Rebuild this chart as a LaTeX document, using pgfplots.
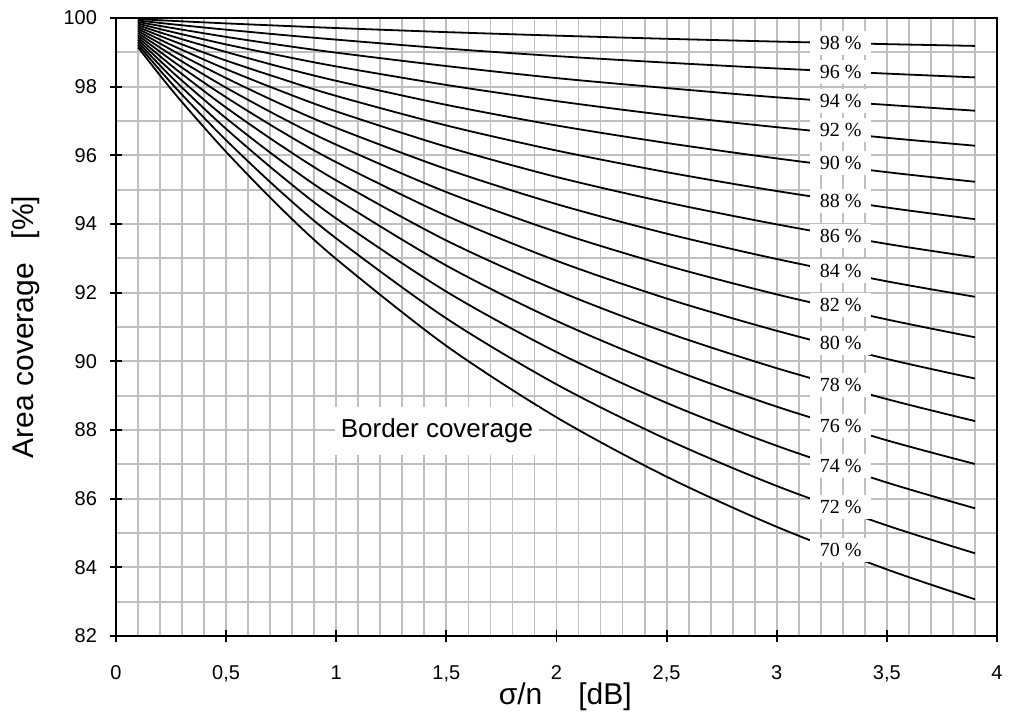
\documentclass[border=0pt]{standalone}
\usepackage{fontspec}
\setmainfont{Liberation Sans}
\newfontfamily\serif{Liberation Serif}
\usepackage{pgfplots}
\usepackage{pgfplotstable}
\pgfplotsset{compat=1.18}

% area coverage [%] against sigma/n [dB], one column per border coverage
\pgfplotstableread{
x    c98    c96    c94    c92    c90    c88    c86    c84    c82    c80    c78    c76    c74    c72    c70
0.1  99.967 99.927 99.883 99.836 99.786 99.733 99.678 99.620 99.560 99.497 99.432 99.363 99.293 99.220 99.144
0.2  99.934 99.856 99.770 99.678 99.580 99.477 99.368 99.256 99.138 99.015 98.887 98.755 98.617 98.475 98.328
0.3  99.903 99.788 99.661 99.526 99.382 99.230 99.071 98.906 98.733 98.553 98.366 98.173 97.972 97.764 97.549
0.5  99.843 99.66  99.45  99.23  99.01  98.76  98.51  98.25  97.97  97.69  97.39  97.08  96.77  96.44  96.10
0.75 99.774 99.51  99.21  98.90  98.57  98.23  97.87  97.49  97.10  96.70  96.28  95.84  95.40  94.93  94.45
1.0  99.708 99.37  98.99  98.59  98.17  97.73  97.28  96.80  96.31  95.80  95.27  94.73  94.16  93.58  92.98
1.5  99.589 99.11  98.60  98.05  97.47  96.87  96.25  95.60  94.93  94.24  93.52  92.79  92.03  91.25  90.45
2.0  99.486 98.89  98.25  97.58  96.87  96.14  95.37  94.58  93.77  92.93  92.07  91.18  90.27  89.33  88.37
2.5  99.394 98.70  97.96  97.17  96.36  95.51  94.63  93.72  92.79  91.83  90.84  89.83  88.79  87.73  86.64
3.0  99.313 98.53  97.69  96.82  95.91  94.96  93.99  92.98  91.95  90.89  89.80  88.68  87.54  86.37  85.18
3.5  99.239 98.38  97.47  96.51  95.51  94.48  93.42  92.33  91.22  90.07  88.90  87.70  86.47  85.22  83.94
3.9  99.187 98.27  97.30  96.28  95.23  94.14  93.03  91.88  90.70  89.50  88.26  87.01  85.72  84.41  83.07
}\cov

\pgfplotsset{curve/.style={black, line width=0.9pt, smooth, no markers}}

\begin{document}
\begin{tikzpicture}
\begin{axis}[
  name=ax,
  scale only axis, width=440.5pt, height=309pt,
  xmin=0, xmax=4, ymin=82, ymax=100,
  xtick={0,0.5,1,1.5,2,2.5,3,3.5,4},
  xticklabels={0,{0,5},1,{1,5},2,{2,5},3,{3,5},4},
  ytick={82,84,86,88,90,92,94,96,98,100},
  minor x tick num=4, minor y tick num=1,
  grid=both,
  grid style={line width=0.9pt, color=gray!50},
  minor grid style={line width=0.9pt, color=gray!50},
  xtick pos=bottom, ytick pos=left,
  tick align=center, major tick length=6pt, minor tick length=0pt,
  tick style={line width=0.9pt, black},
  axis line style={line width=0.9pt},
  tick label style={font=\fontsize{10}{12}\selectfont},
  /pgf/number format/assume math mode=true,
  yticklabel style={xshift=-3pt},
  xticklabel style={yshift=-8pt, anchor=north, text height=7.2pt, text depth=2pt},
  label style={font=\fontsize{15}{18}\selectfont},
  xlabel={σ/n\hspace{1.2em}[dB]},
  ylabel={Area coverage\hspace{0.8em}[\%]},
  xlabel style={at={(axis description cs:0.51,-0.099)}, anchor=center},
  ylabel style={at={(axis description cs:-0.103,0.5)}, anchor=center},
]
\addplot[curve] table[x=x, y=c98] {\cov};
\addplot[curve] table[x=x, y=c96] {\cov};
\addplot[curve] table[x=x, y=c94] {\cov};
\addplot[curve] table[x=x, y=c92] {\cov};
\addplot[curve] table[x=x, y=c90] {\cov};
\addplot[curve] table[x=x, y=c88] {\cov};
\addplot[curve] table[x=x, y=c86] {\cov};
\addplot[curve] table[x=x, y=c84] {\cov};
\addplot[curve] table[x=x, y=c82] {\cov};
\addplot[curve] table[x=x, y=c80] {\cov};
\addplot[curve] table[x=x, y=c78] {\cov};
\addplot[curve] table[x=x, y=c76] {\cov};
\addplot[curve] table[x=x, y=c74] {\cov};
\addplot[curve] table[x=x, y=c72] {\cov};
\addplot[curve] table[x=x, y=c70] {\cov};

\begin{scope}[every node/.style={fill=white, inner xsep=5pt, inner ysep=2.5pt,
    font=\serif\fontsize{10}{12}\selectfont}]
\node at (axis cs:3.29,99.27) {98 \%};
\node at (axis cs:3.29,98.43) {96 \%};
\node at (axis cs:3.29,97.58) {94 \%};
\node at (axis cs:3.29,96.74) {92 \%};
\node at (axis cs:3.29,95.78) {90 \%};
\node at (axis cs:3.29,94.67) {88 \%};
\node at (axis cs:3.29,93.65) {86 \%};
\node at (axis cs:3.29,92.63) {84 \%};
\node at (axis cs:3.29,91.64) {82 \%};
\node at (axis cs:3.29,90.53) {80 \%};
\node at (axis cs:3.29,89.31) {78 \%};
\node at (axis cs:3.29,88.12) {76 \%};
\node at (axis cs:3.29,86.95) {74 \%};
\node at (axis cs:3.29,85.76) {72 \%};
\node at (axis cs:3.29,84.51) {70 \%};
\end{scope}

\node[fill=white, inner xsep=3pt, inner ysep=6pt, font=\fontsize{13}{15}\selectfont]
  at (axis cs:1.457,87.98) {Border coverage};
\end{axis}
\pgfresetboundingbox
\path ([xshift=-58pt,yshift=-41pt]ax.south west) rectangle ([xshift=6pt,yshift=9pt]ax.north east);
\end{tikzpicture}
\end{document}
